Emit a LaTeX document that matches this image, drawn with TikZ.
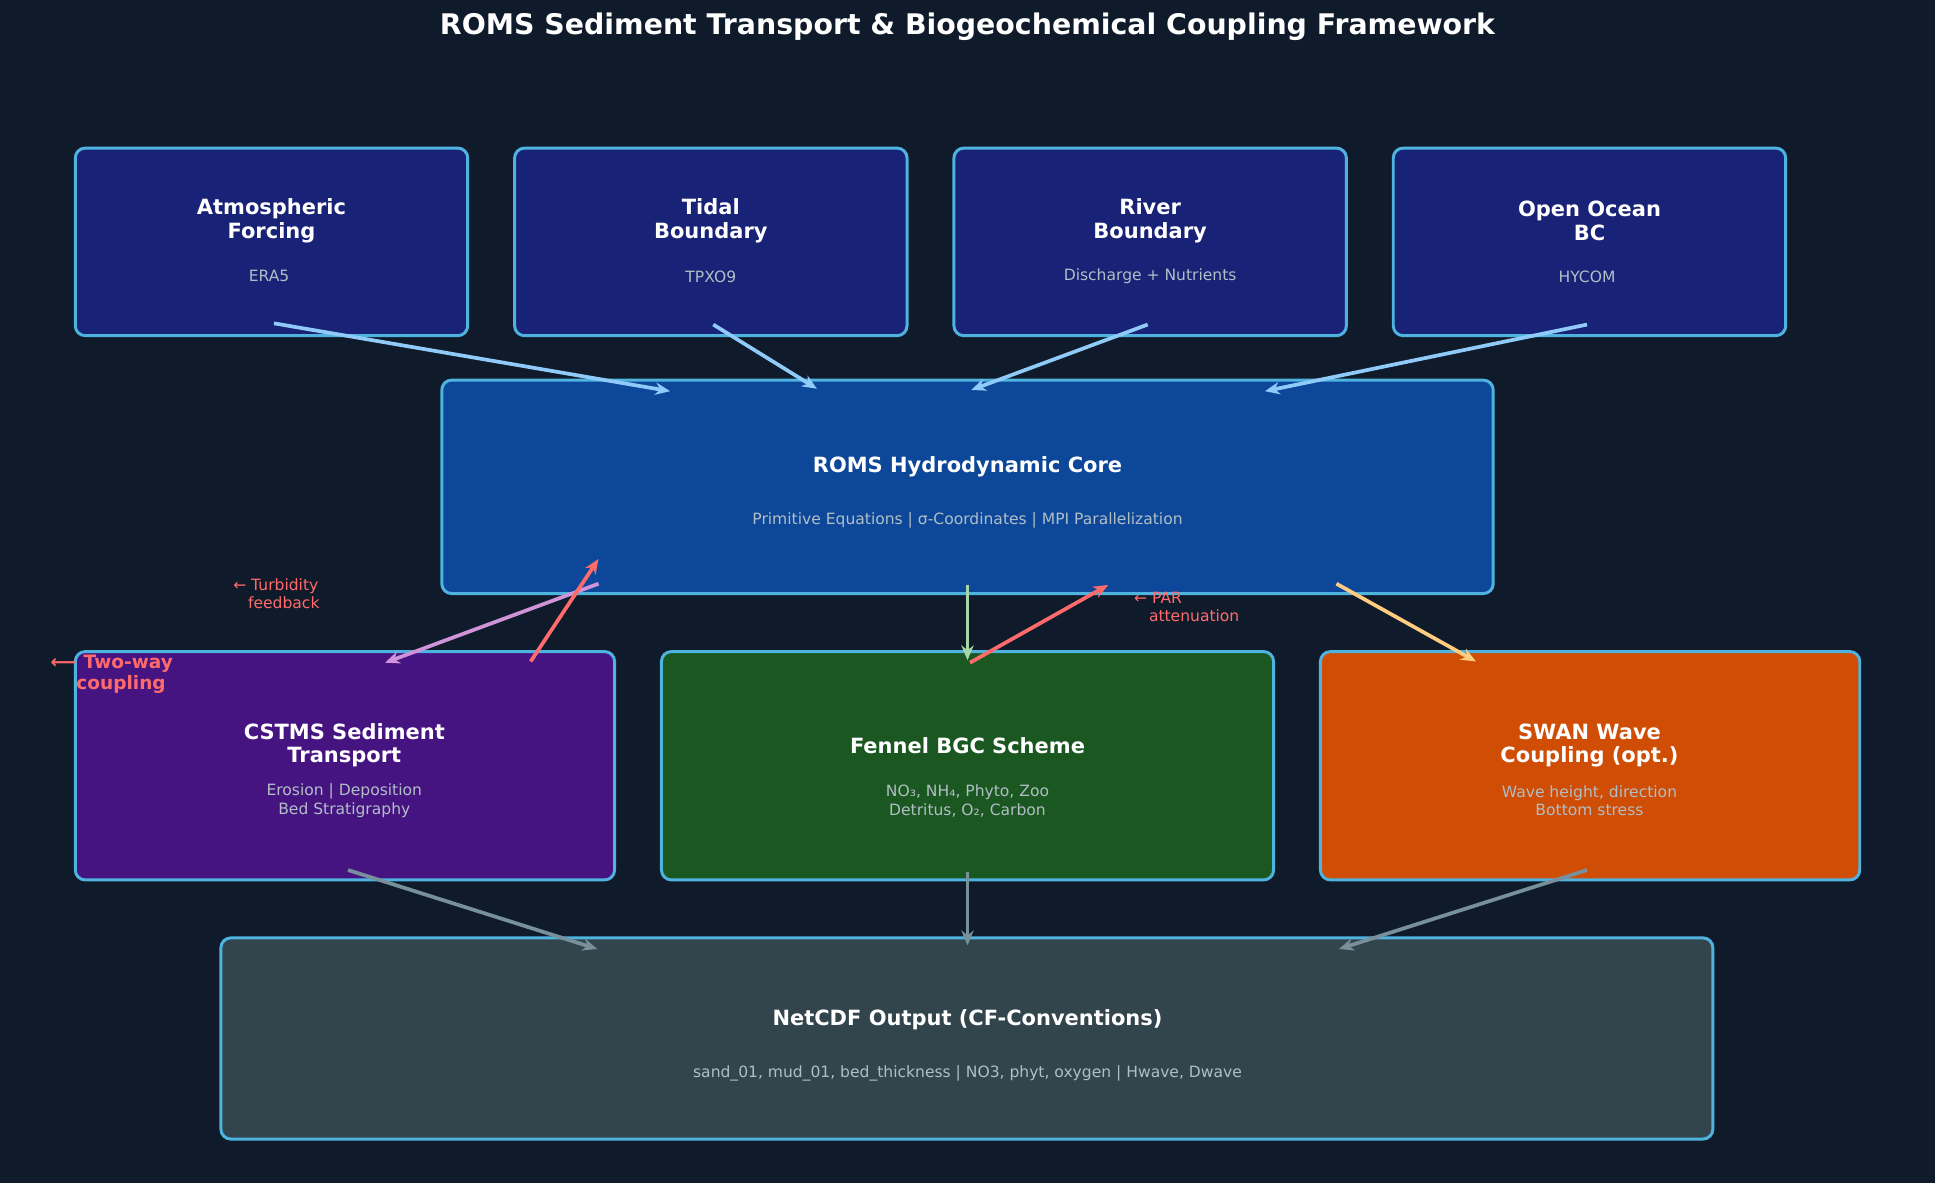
\documentclass[tikz,border=0pt]{standalone}
\usepackage{fontspec}
\setmainfont{DejaVu Sans}
\usetikzlibrary{arrows.meta}
\definecolor{bg}{HTML}{0F1B2A}
\definecolor{edge}{HTML}{4FB3E0}
\definecolor{sub}{HTML}{B0BEC5}
\definecolor{fin}{HTML}{90CAF9}
\definecolor{rd}{HTML}{FF6B6B}
\definecolor{lav}{HTML}{CE93D8}
\definecolor{gr}{HTML}{A5D6A7}
\definecolor{org}{HTML}{FFCC80}
\definecolor{gy}{HTML}{78909C}
\begin{document}
\begin{tikzpicture}[x=0.5pt,y=-0.5pt,
 box/.style={draw=edge,line width=1.2pt,rounded corners=4pt},
 ttl/.style={text=white,font=\bfseries\fontsize{8.5}{9.5}\selectfont,align=center},
 st/.style={text=sub,font=\fontsize{6.3}{7.5}\selectfont,align=center},
 ar/.style={line width=1.5pt,-{Stealth[length=6pt,width=5pt]}}]
\fill[bg] (0,0) rectangle (1568,959);
\node[text=white,font=\bfseries\fontsize{11.5}{13}\selectfont] (title) at (784,22) {ROMS Sediment Transport \& Biogeochemical Coupling Framework};
% top boxes
\foreach \n/\x/\t/\s in {atm/61/Atmospheric\\Forcing/ERA5 / NCEP, tid/417/Tidal\\Boundary/TPXO9, riv/773/River\\Boundary/Discharge + Nutrients, oce/1129/Open Ocean\\BC/HYCOM / GLORYS}{
 \draw[box,fill={rgb,255:red,24;green,34;blue,118}] (\x,120) rectangle ++(318,152);
 \node[ttl] (\n t) at (\x+159,179) {\t};
 \node[st] (\n s) at (\x+159,224) {\s};
}
\draw[box,fill={rgb,255:red,13;green,71;blue,153}] (358,308) rectangle (1210,481);
\node[ttl] (romst) at (784,378) {ROMS Hydrodynamic Core};
\node[st] (romss) at (784,422) {Primitive Equations | σ-Coordinates | MPI Parallelization};
\draw[box,fill={rgb,255:red,69;green,20;blue,128}] (61,528) rectangle (498,713);
\node[ttl] (cst) at (279,604) {CSTMS Sediment\\Transport};
\node[st] (css) at (279,649) {Erosion | Deposition\\Bed Stratigraphy};
\draw[box,fill={rgb,255:red,27;green,87;blue,32}] (536,528) rectangle (1032,713);
\node[ttl] (fent) at (784,604) {Fennel BGC Scheme};
\node[st] (fens) at (784,649) {NO₃, NH₄, Phyto, Zoo\\Detritus, O₂, Carbon};
\draw[box,fill={rgb,255:red,207;green,77;blue,4}] (1070,528) rectangle (1507,713);
\node[ttl] (swt) at (1288,604) {SWAN Wave\\Coupling (opt.)};
\node[st] (sws) at (1288,649) {Wave height, direction\\Bottom stress};
\draw[box,fill={rgb,255:red,50;green,68;blue,76}] (179,760) rectangle (1388,923);
\node[ttl] (nct) at (784,826) {NetCDF Output (CF-Conventions)};
\node[st] (ncs) at (784,870) {sand\_01, mud\_01, bed\_thickness | NO3, phyt, oxygen | Hwave, Dwave};
% labels
\node[text=rd,font=\fontsize{6.3}{7.5}\selectfont,align=left,anchor=east] (lt) at (266,481) {← Turbidity\\\ \ \ feedback};
\node[text=rd,font=\fontsize{6.3}{7.5}\selectfont,align=left,anchor=west] (lp) at (912,492) {← PAR\\\ \ \ attenuation};
\node[text=rd,font=\bfseries\fontsize{7.5}{8.5}\selectfont,align=left,anchor=west] (lc) at (34,546) {⟵ Two-way\\\ \ \ \ coupling};
% arrow endpoints
\foreach \n/\x/\y in {a1/222/262,a2/543/317,b1/578/263,b2/662/315,c1/930/263,c2/787/316,d1/1286/263,d2/1025/317,
 e1/485/473,e2/312/537,f1/430/536,f2/485/453,g1/784/474,g2/784/535,h1/786/537,h2/898/474,i1/1083/473,i2/1196/536,
 j1/282/705,j2/484/769,k1/784/707,k2/784/766,l1/1286/705,l2/1085/769}{\coordinate (\n) at (\x,\y);}
\foreach \s/\e in {a1/a2,b1/b2,c1/c2,d1/d2}{\draw[ar,fin] (\s)--(\e);}
\draw[ar,lav] (e1)--(e2);
\draw[ar,rd] (f1)--(f2);
\draw[ar,gr] (g1)--(g2);
\draw[ar,rd] (h1)--(h2);
\draw[ar,org] (i1)--(i2);
\foreach \s/\e in {j1/j2,k1/k2,l1/l2}{\draw[ar,gy] (\s)--(\e);}
\end{tikzpicture}
\end{document}
